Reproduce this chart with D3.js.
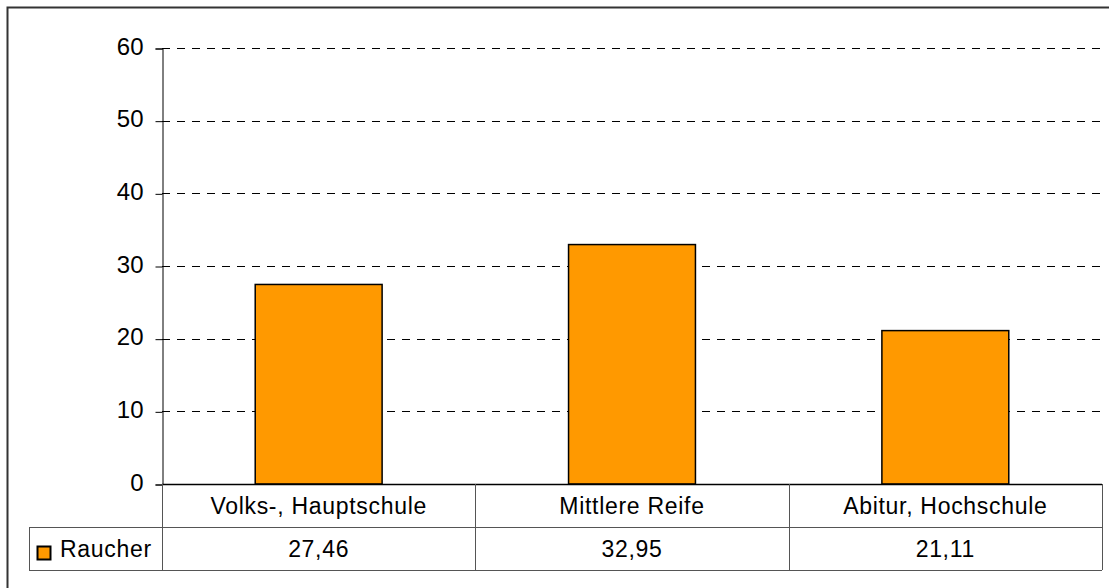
<!DOCTYPE html>
<html>
<head>
<meta charset="utf-8">
<script src="https://cdn.jsdelivr.net/npm/d3@7"></script>
<style>
  html, body { margin: 0; padding: 0; background: #fff; }
  svg { display: block; }
  text { font-family: "Liberation Sans", Arial, sans-serif; fill: #000; }
</style>
</head>
<body>
<svg id="chart" width="1109" height="588"></svg>
<script>
// Smoking rate (%) by school education
const categories = ["Volks-, Hauptschule", "Mittlere Reife", "Abitur, Hochschule"];
const seriesName = "Raucher";
const values = [27.46, 32.95, 21.11];
const yTicks = [0, 10, 20, 30, 40, 50, 60];
const valueLabels = ["27,46", "32,95", "21,11"];

const svg = d3.select("#chart");
const W = 1109, H = 588;

const plotLeft = 162, plotRight = 1102, plotTop = 48, base = 484;
const rowH = 43;
const legendLeft = 29;
const fontSize = 23;
const axisFontSize = 24;
const spacing = "0.7px";

// outer frame
svg.append("rect")
  .attr("x", 7.5).attr("y", 7.5)
  .attr("width", W + 10).attr("height", H + 10)
  .attr("fill", "none").attr("stroke", "#333").attr("stroke-width", 2);

const x = d3.scaleBand().domain(categories).range([plotLeft, plotRight]).padding(0);
const y = d3.scaleLinear().domain([0, 60]).range([base, plotTop]);

// dashed gridlines
svg.append("g")
  .selectAll("line")
  .data(yTicks.filter(t => t > 0))
  .join("line")
  .attr("x1", plotLeft).attr("x2", plotRight)
  .attr("y1", d => Math.round(y(d)) + 0.5).attr("y2", d => Math.round(y(d)) + 0.5)
  .attr("stroke", "#000").attr("stroke-width", 1)
  .attr("stroke-dasharray", "8,7");

// y axis
const yAxis = d3.axisLeft(y).tickValues(yTicks).tickSize(7).tickPadding(12).tickFormat(d3.format("d"));
const gy = svg.append("g").attr("transform", `translate(${plotLeft + 0.5},0.5)`).call(yAxis);
gy.select(".domain").attr("stroke", "#000");
gy.selectAll(".tick line").attr("stroke", "#000");
gy.selectAll(".tick text")
  .attr("y", -2)
  .style("font-family", '"Liberation Sans", Arial, sans-serif')
  .style("font-size", axisFontSize + "px")
  .attr("fill", "#000");

// bars
const barFrac = 0.405;
svg.append("g")
  .selectAll("rect")
  .data(values)
  .join("rect")
  .attr("x", (d, i) => x(categories[i]) + x.bandwidth() * (1 - barFrac) / 2)
  .attr("width", x.bandwidth() * barFrac)
  .attr("y", d => y(d))
  .attr("height", d => base - y(d))
  .attr("fill", "#FF9900")
  .attr("stroke", "#000").attr("stroke-width", 1.5);

// data table below the plot
const table = svg.append("g");
const lineColor = "#555";
// horizontal lines
table.append("line").attr("x1", plotLeft).attr("x2", plotRight).attr("y1", base + 0.5).attr("y2", base + 0.5)
  .attr("stroke", "#000").attr("stroke-width", 1.5);
table.append("line").attr("x1", legendLeft).attr("x2", plotRight).attr("y1", base + rowH + 0.5).attr("y2", base + rowH + 0.5)
  .attr("stroke", lineColor);
table.append("line").attr("x1", legendLeft).attr("x2", plotRight).attr("y1", base + 2 * rowH + 0.5).attr("y2", base + 2 * rowH + 0.5)
  .attr("stroke", lineColor);
// vertical lines
const vx = categories.map(c => x(c)).concat([plotRight]);
table.selectAll("line.v").data(vx).join("line").attr("class", "v")
  .attr("x1", d => Math.round(d) + 0.5).attr("x2", d => Math.round(d) + 0.5)
  .attr("y1", base).attr("y2", base + 2 * rowH)
  .attr("stroke", lineColor);
table.append("line").attr("x1", legendLeft + 0.5).attr("x2", legendLeft + 0.5)
  .attr("y1", base + rowH).attr("y2", base + 2 * rowH).attr("stroke", lineColor);

// category labels
table.selectAll("text.cat").data(categories).join("text").attr("class", "cat")
  .attr("x", d => x(d) + x.bandwidth() / 2)
  .attr("y", base + rowH / 2 + 8.5)
  .attr("text-anchor", "middle")
  .style("font-size", fontSize + "px")
  .style("letter-spacing", spacing)
  .text(d => d);

// value labels
table.selectAll("text.val").data(values).join("text").attr("class", "val")
  .attr("x", (d, i) => x(categories[i]) + x.bandwidth() / 2)
  .attr("y", base + rowH * 1.5 + 8.5)
  .attr("text-anchor", "middle")
  .style("font-size", fontSize + "px")
  .style("letter-spacing", spacing)
  .text((d, i) => valueLabels[i]);

// legend key
table.append("rect")
  .attr("x", 37.5).attr("y", 546.5).attr("width", 13).attr("height", 13)
  .attr("fill", "#FF9900").attr("stroke", "#000").attr("stroke-width", 2);
table.append("text")
  .attr("x", 60).attr("y", base + rowH * 1.5 + 8.5)
  .style("font-size", fontSize + "px")
  .style("letter-spacing", spacing)
  .text(seriesName);
</script>
</body>
</html>
